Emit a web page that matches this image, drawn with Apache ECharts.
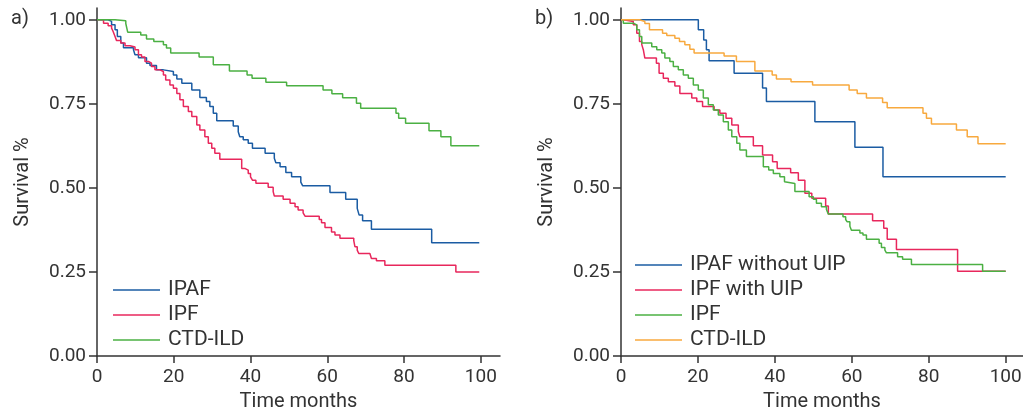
<!DOCTYPE html>
<html>
<head>
<meta charset="utf-8">
<script src="https://cdn.jsdelivr.net/npm/echarts@6/dist/echarts.min.js"></script>
<style>
html, body { margin: 0; padding: 0; background: #fff; }
#chart { width: 1023px; height: 417px; }
</style>
</head>
<body>
<div id="chart"></div>
<script>
// tick labels
var xTicks = [0, 20, 40, 60, 80, 100];
var yTicks = [0, 0.25, 0.5, 0.75, 1];

// panel a) names
var namesA = ['IPAF', 'IPF', 'CTD-ILD'];
// panel b) names
var namesB = ['IPAF without UIP', 'IPF with UIP', 'IPF', 'CTD-ILD'];

// Kaplan-Meier curves, [month, survival]
var ipafA = [[0,1],[2.9,0.995],[3.8,0.985],[4.7,0.970],[5.3,0.950],[6.2,0.931],[6.9,0.917],[9.5,0.911],[9.9,0.896],[10.8,0.887],[12.9,0.871],[13.8,0.864],[15.5,0.851],[17.3,0.846],[19.9,0.836],[20.8,0.824],[22.1,0.811],[24.7,0.791],[26.8,0.769],[28.5,0.757],[29.4,0.742],[30.3,0.722],[31.2,0.700],[35.5,0.684],[36.8,0.667],[37.2,0.652],[38.1,0.643],[39.4,0.633],[40.5,0.618],[43.8,0.603],[46.2,0.588],[46.6,0.575],[47.7,0.563],[49.2,0.546],[50.7,0.533],[53.1,0.517],[53.6,0.506],[60.7,0.486],[64.8,0.466],[67.8,0.439],[68.3,0.419],[69.2,0.402],[71.5,0.377],[87.2,0.337],[99.6,0.337]];
var ipfA = [[0,1],[1.7,0.990],[2.9,0.982],[3.8,0.975],[4.2,0.965],[4.7,0.950],[5.1,0.938],[6.2,0.931],[7.3,0.923],[8.6,0.919],[9.9,0.911],[10.8,0.896],[11.6,0.889],[12.5,0.876],[13.4,0.871],[14.2,0.861],[15.1,0.851],[16.4,0.846],[17.3,0.836],[17.9,0.821],[19.0,0.806],[19.9,0.796],[20.8,0.781],[21.6,0.762],[22.5,0.742],[23.8,0.727],[24.7,0.712],[26.0,0.687],[26.8,0.672],[28.1,0.652],[29.0,0.633],[29.9,0.618],[30.7,0.603],[32.0,0.585],[37.7,0.558],[38.5,0.553],[39.4,0.543],[40.0,0.533],[40.5,0.523],[41.4,0.514],[44.6,0.502],[45.9,0.489],[46.2,0.476],[48.5,0.466],[50.3,0.454],[51.6,0.444],[52.4,0.434],[53.7,0.426],[54.2,0.416],[57.9,0.406],[58.5,0.396],[59.4,0.382],[61.1,0.369],[62.0,0.360],[63.3,0.350],[66.9,0.343],[67.2,0.325],[67.8,0.315],[68.2,0.305],[71.1,0.300],[71.5,0.290],[72.8,0.283],[75.0,0.270],[93.5,0.250],[99.6,0.250]];
var ctdA = [[0,1],[4.7,0.997],[7.5,0.989],[8.0,0.963],[11.4,0.955],[12.9,0.943],[14.8,0.935],[17.3,0.926],[18.1,0.916],[19.2,0.901],[26.6,0.889],[30.3,0.866],[34.5,0.848],[39.1,0.836],[40.4,0.826],[44.0,0.814],[49.4,0.804],[58.9,0.791],[61.2,0.780],[64.0,0.768],[67.6,0.752],[68.7,0.737],[77.9,0.722],[78.6,0.707],[80.4,0.692],[86.5,0.670],[89.6,0.652],[92.2,0.625],[99.6,0.625]];

var ipafB = [[0,1],[20.1,0.970],[21.5,0.940],[22.2,0.911],[22.9,0.878],[29.4,0.841],[36.8,0.797],[37.8,0.757],[50.4,0.697],[60.8,0.621],[68.1,0.533],[100,0.533]];
var ipfUipB = [[0,1],[0.6,0.995],[3.2,0.985],[4.1,0.960],[4.8,0.935],[5.4,0.926],[5.8,0.911],[6.2,0.886],[9.2,0.871],[9.9,0.841],[11.0,0.826],[12.3,0.816],[14.0,0.803],[15.3,0.781],[18.4,0.767],[19.7,0.757],[21.2,0.742],[24.2,0.732],[25.7,0.722],[27.3,0.707],[28.8,0.687],[30.5,0.667],[30.9,0.652],[34.4,0.625],[36.8,0.598],[39.4,0.578],[40.6,0.558],[44.1,0.545],[46.1,0.523],[47.8,0.484],[49.6,0.469],[53.2,0.446],[53.9,0.422],[65.4,0.402],[68.3,0.380],[69.2,0.347],[71.6,0.317],[87.5,0.252],[100,0.252]];
var ipfB = [[0,1],[0.6,0.990],[3.2,0.985],[4.1,0.970],[4.8,0.950],[5.4,0.931],[8.0,0.920],[9.3,0.911],[10.6,0.901],[11.4,0.886],[12.7,0.876],[13.6,0.861],[14.9,0.851],[16.2,0.836],[17.5,0.826],[18.8,0.806],[20.1,0.791],[21.4,0.767],[22.7,0.747],[24.0,0.732],[25.3,0.717],[26.6,0.697],[27.9,0.672],[28.8,0.652],[30.1,0.633],[30.9,0.613],[32.6,0.593],[37.0,0.563],[38.4,0.553],[39.6,0.543],[41.3,0.533],[42.5,0.518],[43.0,0.513],[45.2,0.489],[48.9,0.474],[50.0,0.466],[50.8,0.454],[52.1,0.444],[53.4,0.436],[53.9,0.422],[57.7,0.414],[58.4,0.406],[58.8,0.399],[59.5,0.386],[59.9,0.374],[62.1,0.366],[62.9,0.360],[63.8,0.347],[67.1,0.335],[67.7,0.323],[68.6,0.315],[69.0,0.307],[71.9,0.295],[73.2,0.288],[75.5,0.272],[94.0,0.252],[100,0.252]];
var ctdB = [[0,1],[4.8,0.995],[6.2,0.989],[7.4,0.970],[10.8,0.960],[11.9,0.953],[14.0,0.945],[15.2,0.935],[16.6,0.926],[17.9,0.912],[19.0,0.901],[26.8,0.892],[30.0,0.876],[34.8,0.848],[39.3,0.836],[40.4,0.824],[44.2,0.816],[49.8,0.806],[59.3,0.791],[61.4,0.781],[63.8,0.767],[68.0,0.754],[69.2,0.738],[78.5,0.722],[79.4,0.707],[80.7,0.690],[87.2,0.672],[90.0,0.652],[92.8,0.631],[100,0.631]];

var colorsA = ['#1b5ca3', '#e8275c', '#4bb043'];
var colorsB = ['#1b5ca3', '#e8275c', '#4bb043', '#f8a93e'];

var FONT = 'Roboto';
var INK = '#333';

function xAxisOf(idx, max) {
    return {
        type: 'value', gridIndex: idx, min: 0, max: max,
        name: 'Time months', nameLocation: 'middle', nameGap: 33,
        nameTextStyle: { fontFamily: FONT, fontSize: 20, color: INK },
        axisLine: { lineStyle: { color: INK, width: 1.5 } },
        axisTick: { customValues: xTicks, length: 7, lineStyle: { color: INK, width: 1.5 } },
        axisLabel: { customValues: xTicks, margin: 12, fontFamily: FONT, fontSize: 19, color: INK },
        splitLine: { show: false }
    };
}
function yAxisOf(idx) {
    return {
        type: 'value', gridIndex: idx, min: 0, max: 1.035,
        name: 'Survival %', nameLocation: 'middle', nameGap: 64,
        nameTextStyle: { fontFamily: FONT, fontSize: 20, color: INK },
        axisLine: { show: true, lineStyle: { color: INK, width: 1.5 } },
        axisTick: { show: true, customValues: yTicks, length: 8, lineStyle: { color: INK, width: 1.5 } },
        axisLabel: { customValues: yTicks, margin: 11, fontFamily: FONT, fontSize: 19, color: INK,
            formatter: function (v) { return v.toFixed(2); } },
        splitLine: { show: false }
    };
}
function curve(name, data, color, idx) {
    return {
        name: name, type: 'line', data: data, step: 'end',
        xAxisIndex: idx, yAxisIndex: idx,
        symbol: 'none', color: color,
        lineStyle: { color: color, width: 1.5 }
    };
}
function legendOf(names, prefix, left, top) {
    return {
        data: names.map(function (n) { return prefix + n; }),
        formatter: function (n) { return n.slice(2); },
        orient: 'vertical', left: left, top: top, padding: 0,
        icon: 'rect', itemWidth: 47, itemHeight: 1.5, itemGap: 3,
        itemStyle: { borderWidth: 0 },
        textStyle: { fontFamily: FONT, fontSize: 21, color: INK, lineHeight: 22, padding: [0, 0, 0, 3] }
    };
}

var seriesA = [ipafA, ipfA, ctdA];
var seriesB = [ipafB, ipfUipB, ipfB, ctdB];
var series = [];
namesA.forEach(function (n, i) { series.push(curve('a:' + n, seriesA[i], colorsA[i], 0)); });
namesB.forEach(function (n, i) { series.push(curve('b:' + n, seriesB[i], colorsB[i], 1)); });

var chart = echarts.init(document.getElementById('chart'));
chart.setOption({
    animation: false,
    backgroundColor: '#fff',
    grid: [
        { left: 97, top: 8, width: 403, height: 348, outerBoundsMode: 'none' },
        { left: 621, top: 8, width: 402, height: 348, outerBoundsMode: 'none' }
    ],
    xAxis: [xAxisOf(0, 105), xAxisOf(1, 104.5)],
    yAxis: [yAxisOf(0), yAxisOf(1)],
    legend: [legendOf(namesA, 'a:', 113, 279), legendOf(namesB, 'b:', 635, 254)],
    graphic: [
        { type: 'text', left: 11, top: 9, style: { text: 'a)', font: '20px Roboto', fill: INK } },
        { type: 'text', left: 535, top: 9, style: { text: 'b)', font: '20px Roboto', fill: INK } }
    ],
    series: series
});
</script>
</body>
</html>
